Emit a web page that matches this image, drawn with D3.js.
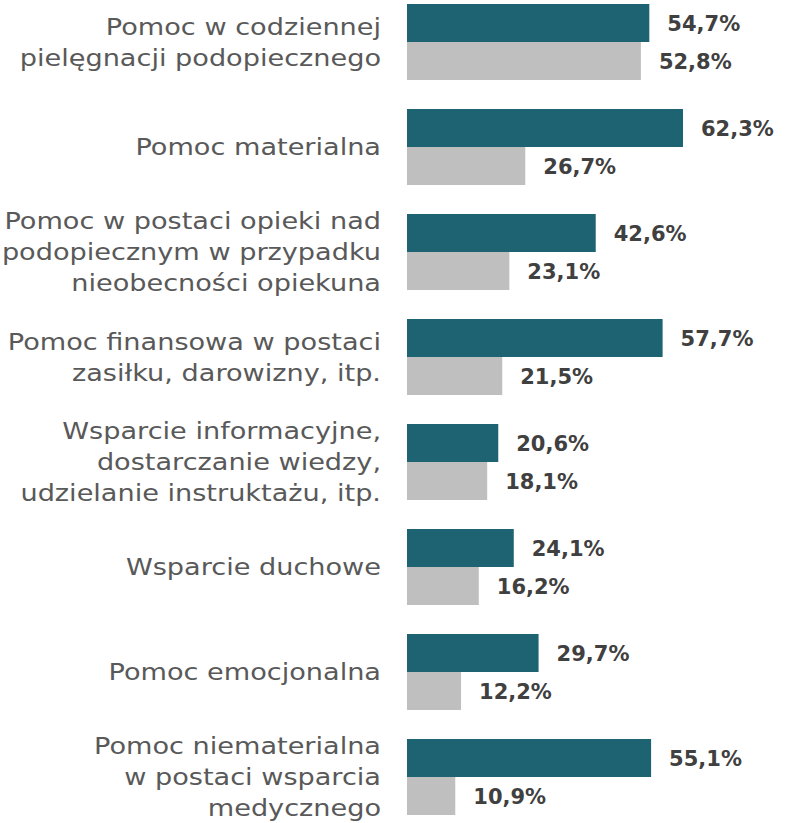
<!DOCTYPE html>
<html>
<head>
<meta charset="utf-8">
<script src="https://cdn.jsdelivr.net/npm/d3@7"></script>
<style>
  html, body { margin: 0; padding: 0; background: #fff; }
  svg { display: block; }
</style>
</head>
<body>
<svg id="chart" width="786" height="823"></svg>
<script>
// Category labels, one entry per wrapped line
const categories = [
  ["Pomoc w codziennej", "pielęgnacji podopiecznego"],
  ["Pomoc materialna"],
  ["Pomoc w postaci opieki nad", "podopiecznym w przypadku", "nieobecności opiekuna"],
  ["Pomoc finansowa w postaci", "zasiłku, darowizny, itp."],
  ["Wsparcie informacyjne,", "dostarczanie wiedzy,", "udzielanie instruktażu, itp."],
  ["Wsparcie duchowe"],
  ["Pomoc emocjonalna"],
  ["Pomoc niematerialna", "w postaci wsparcia", "medycznego"]
];
const seriesA = [54.7, 62.3, 42.6, 57.7, 20.6, 24.1, 29.7, 55.1];
const seriesB = [52.8, 26.7, 23.1, 21.5, 18.1, 16.2, 12.2, 10.9];
const seriesKeys = ["a", "b"];
const seriesColors = { a: "#1D6371", b: "#BFBFBF" };

const svg = d3.select("#chart");
const ids = categories.map((_, i) => i);
const rows = ids.map(i => ({ i, lines: categories[i], a: seriesA[i], b: seriesB[i] }));

const barX0 = 407;
const x = d3.scaleLinear().domain([0, 100]).range([barX0, barX0 + 443]);

const y = d3.scaleBand()
  .domain(ids)
  .range([4, 815])
  .paddingInner(29 / 105)
  .paddingOuter(0);

const ySub = d3.scaleBand()
  .domain(seriesKeys)
  .range([0, y.bandwidth()]);

const fmt = v => d3.format(".1f")(v).replace(".", ",") + "%";

const groups = svg.selectAll("g.group")
  .data(rows)
  .join("g")
  .attr("class", "group")
  .attr("transform", d => `translate(0,${y(d.i)})`);

groups.selectAll("rect")
  .data(d => seriesKeys.map(k => ({ k, v: d[k] })))
  .join("rect")
  .attr("x", x(0))
  .attr("y", d => ySub(d.k))
  .attr("width", d => x(d.v) - x(0))
  .attr("height", ySub.bandwidth())
  .attr("fill", d => seriesColors[d.k]);

groups.selectAll("text.value")
  .data(d => seriesKeys.map(k => ({ k, v: d[k] })))
  .join("text")
  .attr("class", "value")
  .attr("x", d => x(d.v) + 18)
  .attr("y", d => ySub(d.k) + ySub.bandwidth() / 2)
  .attr("dy", "0.36em")
  .attr("font-family", "'DejaVu Sans', sans-serif")
  .attr("font-weight", "bold")
  .attr("font-size", 21)
  .attr("fill", "#404040")
  .text(d => fmt(d.v));

// Category labels, right-aligned left of the bars, block centred on the group
const lineH = 31;
const labels = svg.selectAll("g.label")
  .data(rows)
  .join("g")
  .attr("class", "label")
  .attr("transform", d => `translate(381,${y(d.i) + y.bandwidth() / 2}) scale(1.18,1)`);

labels.selectAll("text")
  .data(d => d.lines.map((t, j) => ({ t, j, n: d.lines.length })))
  .join("text")
  .attr("x", 0)
  .attr("y", d => (d.j - (d.n - 1) / 2) * lineH)
  .attr("dy", "0.36em")
  .attr("text-anchor", "end")
  .attr("font-family", "'DejaVu Sans', sans-serif")
  .attr("font-size", 23)
  .attr("fill", "#595959")
  .text(d => d.t);
</script>
</body>
</html>
